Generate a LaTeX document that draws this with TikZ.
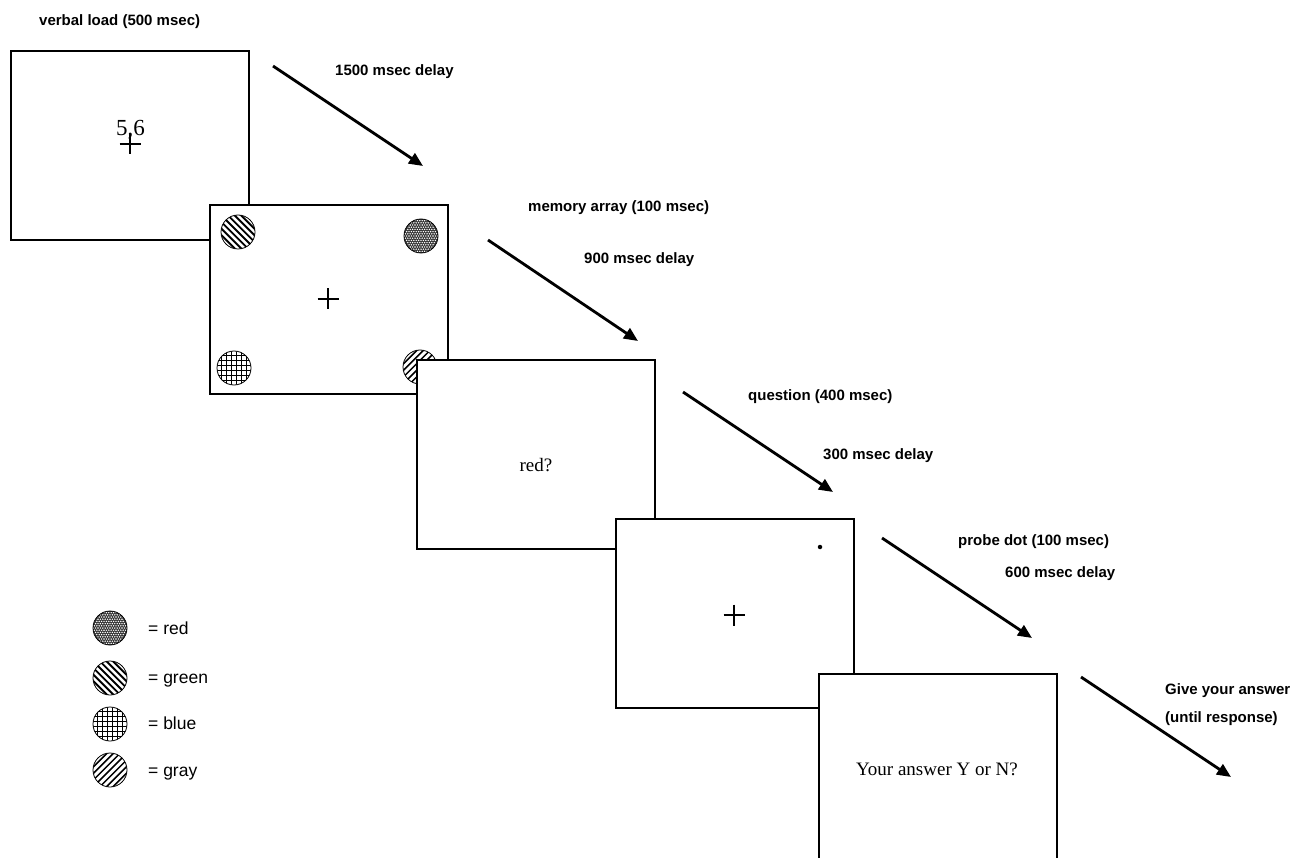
\documentclass[tikz,border=0pt]{standalone}
\usepackage{fontspec}
\setmainfont{Liberation Serif}
\newfontfamily\sansf{Liberation Sans}
\usetikzlibrary{arrows.meta}
\begin{document}
\begin{tikzpicture}[x=1pt,y=-1pt,
  screen/.style={draw, fill=white, line width=1.8, minimum width=238, minimum height=189, anchor=north west, inner sep=0},
  lbl/.style={font=\sansf\bfseries\fontsize{15}{18}\selectfont, anchor=base west, inner sep=0},
  leg/.style={font=\sansf\fontsize{17.5}{20}\selectfont, anchor=base west, inner sep=0},
  stim/.style={font=\fontsize{19}{22}\selectfont, inner sep=0},
  flow/.style={line width=2.8, -{Triangle[length=14,width=12]}},
  disc/.style={circle, draw, line width=0.8, minimum size=34, inner sep=0},
  redpat/.style={disc, fill=black!80, path picture={\begin{scope}[shift={(path picture bounding box.center)}]
      \foreach \j in {-8,...,8}{\foreach \i in {-8,...,8}{
        \fill[white] ({\i*2.4+mod(abs(\j),2)*1.2},{\j*2.2}) circle (0.8);}}
    \end{scope}}},
  greenpat/.style={disc, path picture={\begin{scope}[shift={(path picture bounding box.center)}]
      \foreach \k in {-8,...,8}{\draw[line width=1.9] ({-25+\k*3.3},{-25-\k*3.3}) -- ({25+\k*3.3},{25-\k*3.3});}
    \end{scope}}},
  graypat/.style={disc, path picture={\begin{scope}[shift={(path picture bounding box.center)}]
      \foreach \k in {-8,...,8}{\draw[line width=1.5] ({-25+\k*3.3},{25+\k*3.3}) -- ({25+\k*3.3},{-25+\k*3.3});}
    \end{scope}}},
  bluepat/.style={disc, path picture={\begin{scope}[shift={(path picture bounding box.center)}]
      \foreach \k in {-4,...,4}{\draw[line width=1.0] ({(\k+0.5)*5},-20)--({(\k+0.5)*5},20) (-20,{(\k+0.5)*5})--(20,{(\k+0.5)*5});}
    \end{scope}}},
  fixcross/.pic={\draw[line width=1.5] (-10.5,0)--(10.5,0) (0,-10.5)--(0,10.5);}
]
\useasboundingbox (0,0) rectangle (1301,858);
\fill[white] (0,0) rectangle (1301,858);

% screen 1
\node[screen] (b1) at (10,50) {};
\node[font=\fontsize{23}{26}\selectfont, anchor=base, inner sep=0] (digits) at (130.5,136) {5,6};
\pic (c1) at (130,144) {fixcross};

% screen 2
\node[screen] (b2) at (209,204) {};
\node[greenpat] (m1) at (238,232) {};
\node[redpat] (m2) at (421,236) {};
\node[bluepat] (m3) at (234,368) {};
\node[graypat] (m4) at (420,367) {};
\pic (c2) at (328,299) {fixcross};

% screen 3
\node[screen] (b3) at (416,359) {};
\node[stim] (q) at (536,465) {red?};

% screen 4
\node[screen] (b4) at (615,518) {};
\pic (c4) at (734,615) {fixcross};
\node[circle, fill, inner sep=0, minimum size=4.5] (probe) at (820,547) {};

% screen 5
\node[screen] (b5) at (818,673) {};
\node[stim] (ans) at (937,769) {Your answer Y or N?};

% arrows
\coordinate (a1s) at (273,66);   \coordinate (a1e) at (423,166);
\coordinate (a2s) at (488,240);  \coordinate (a2e) at (638,341);
\coordinate (a3s) at (683,392);  \coordinate (a3e) at (833,492);
\coordinate (a4s) at (882,538);  \coordinate (a4e) at (1032,638);
\coordinate (a5s) at (1081,677); \coordinate (a5e) at (1231,777);
\draw[flow] (a1s) -- (a1e);
\draw[flow] (a2s) -- (a2e);
\draw[flow] (a3s) -- (a3e);
\draw[flow] (a4s) -- (a4e);
\draw[flow] (a5s) -- (a5e);

% labels
\node[lbl] (l1) at (39,26) {verbal load (500 msec)};
\node[lbl] (l2) at (335,76) {1500 msec delay};
\node[lbl] (l3) at (528,212) {memory array (100 msec)};
\node[lbl] (l4) at (584,264) {900 msec delay};
\node[lbl] (l5) at (748,401) {question (400 msec)};
\node[lbl] (l6) at (823,459) {300 msec delay};
\node[lbl] (l7) at (958,545) {probe dot (100 msec)};
\node[lbl] (l8) at (1005,577) {600 msec delay};
\node[lbl] (l9) at (1165,694) {Give your answer};
\node[lbl] (l10) at (1165,722) {(until response)};

% legend
\node[redpat] (k1) at (110,628) {};
\node[greenpat] (k2) at (110,678) {};
\node[bluepat] (k3) at (110,724) {};
\node[graypat] (k4) at (110,770) {};
\node[leg] (t1) at (148,634) {= red};
\node[leg] (t2) at (148,683) {= green};
\node[leg] (t3) at (148,729) {= blue};
\node[leg] (t4) at (148,776) {= gray};
\end{tikzpicture}
\end{document}
